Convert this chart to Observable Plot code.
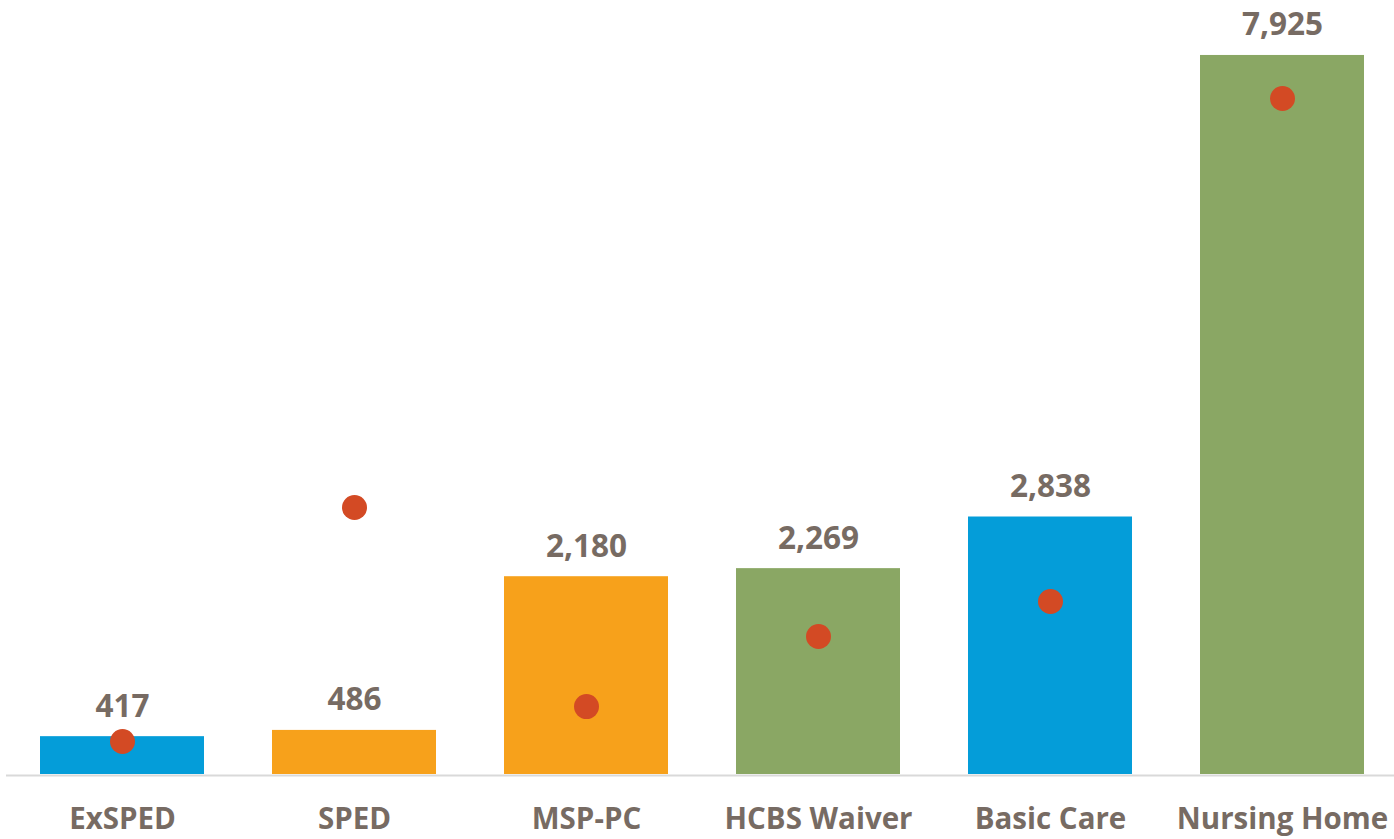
<!DOCTYPE html>
<html>
<head>
<meta charset="utf-8">
<script src="https://cdn.jsdelivr.net/npm/d3@7"></script>
<script src="https://cdn.jsdelivr.net/npm/@observablehq/plot@0.6"></script>
<style>
  html, body { margin: 0; padding: 0; background: #fff; }
  #chart { width: 1394px; height: 839px; }
  svg { font-family: "Open Sans", "Noto Sans", sans-serif; }
</style>
</head>
<body>
<div id="chart"></div>
<script>
const categories = ["ExSPED", "SPED", "MSP-PC", "HCBS Waiver", "Basic Care", "Nursing Home"];
const barValues = [417, 486, 2180, 2269, 2838, 7925];
const dotValues = [364, 2943, 749, 1521, 1907, 7451];
const groups = ["Group A", "Group B", "Group B", "Group C", "Group A", "Group C"];

const data = categories.map((c, i) => ({category: c, value: barValues[i], dot: dotValues[i], group: groups[i]}));
const textColor = "#776b63";

const chart = Plot.plot({
  width: 1394,
  height: 839,
  marginLeft: 6,
  marginRight: 0,
  marginTop: 0,
  marginBottom: 65,
  x: {domain: categories, range: [6, 1398], paddingInner: 0.293, paddingOuter: 0.1465, label: null},
  y: {domain: [0, 8000], range: [774, 774 - 8000 * 0.09073], axis: null},
  color: {domain: ["Group A", "Group B", "Group C"], range: ["#049dd9", "#f7a11b", "#8aa764"]},
  marks: [
    Plot.barY(data, {x: "category", y: "value", fill: "group"}),
    Plot.ruleY([0], {stroke: "#d9d9d9", strokeWidth: 2, dy: 1}),
    Plot.dot(data, {x: "category", y: "dot", r: 12.5, fill: "#d34a24", stroke: "none"}),
    Plot.text(data, {x: "category", y: "value", text: d => d3.format(",")(d.value), dy: -20, lineAnchor: "bottom", fontSize: 31.5, fontWeight: "bold", fill: textColor}),
    Plot.axisX({tickSize: 0, tickPadding: 34, fontSize: 29.5, fontWeight: "bold", color: textColor, label: null})
  ]
});
document.getElementById("chart").append(chart);
</script>
</body>
</html>
